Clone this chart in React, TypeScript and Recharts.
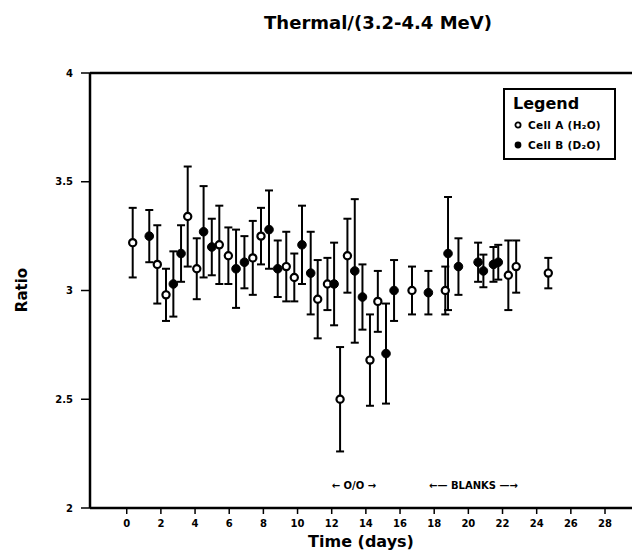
import {
  ScatterChart,
  Scatter,
  XAxis,
  YAxis,
  ErrorBar,
  Legend,
  Label,
  ReferenceLine,
  ReferenceDot,
} from "recharts"

// Cell A (H2O) — open circles
const cellADays = [0.35, 1.79, 2.3, 3.57, 4.1, 5.42, 5.95, 7.38, 7.86, 9.34, 9.81, 11.18, 11.75, 12.49, 12.92, 14.24, 14.7, 16.7, 18.65, 22.34, 22.8, 24.68]
const cellARatio = [3.22, 3.12, 2.98, 3.34, 3.1, 3.21, 3.16, 3.15, 3.25, 3.11, 3.06, 2.96, 3.03, 2.5, 3.16, 2.68, 2.95, 3.0, 3.0, 3.07, 3.11, 3.08]
const cellAErr = [0.16, 0.18, 0.12, 0.23, 0.14, 0.18, 0.13, 0.17, 0.13, 0.16, 0.11, 0.18, 0.12, 0.24, 0.17, 0.21, 0.14, 0.11, 0.11, 0.16, 0.12, 0.07]

// Cell B (D2O) — filled circles
const cellBDays = [1.32, 2.73, 3.18, 4.5, 4.98, 6.4, 6.89, 8.33, 8.84, 10.26, 10.77, 12.14, 13.35, 13.8, 15.18, 15.65, 17.66, 18.81, 19.42, 20.57, 20.88, 21.47, 21.75]
const cellBRatio = [3.25, 3.03, 3.17, 3.27, 3.2, 3.1, 3.13, 3.28, 3.1, 3.21, 3.08, 3.03, 3.09, 2.97, 2.71, 3.0, 2.99, 3.17, 3.11, 3.13, 3.09, 3.12, 3.13]
const cellBErr = [0.12, 0.15, 0.13, 0.21, 0.13, 0.18, 0.12, 0.18, 0.13, 0.18, 0.19, 0.19, 0.33, 0.15, 0.23, 0.14, 0.1, 0.26, 0.13, 0.09, 0.075, 0.08, 0.08]

const xTicks = [0, 2, 4, 6, 8, 10, 12, 14, 16, 18, 20, 22, 24, 26, 28]
const yTicks = [2, 2.5, 3, 3.5, 4]

const seriesNames = ["Cell A (H\u2082O)", "Cell B (D\u2082O)"]

const annotations = [
  { x: 13.3, y: 2.105, text: "\u2190 O/O \u2192" },
  { x: 20.3, y: 2.105, text: "\u2190\u2014 BLANKS \u2014\u2192" },
]

const FONT = "'DejaVu Sans', sans-serif"

const cellA = cellADays.map((d, i) => ({ day: d, ratio: cellARatio[i], err: cellAErr[i] }))
const cellB = cellBDays.map((d, i) => ({ day: d, ratio: cellBRatio[i], err: cellBErr[i] }))

const OpenDot = (p: any) => <circle cx={p.cx} cy={p.cy} r={3.6} fill="#fff" stroke="#000" strokeWidth={2.2} />
const FilledDot = (p: any) => <circle cx={p.cx} cy={p.cy} r={4.3} fill="#000" stroke="#000" strokeWidth={1} />

function LegendBox() {
  return (
    <div
      style={{
        width: 113,
        height: 72,
        border: "2px solid #000",
        background: "#fff",
        fontFamily: FONT,
        fontWeight: 700,
        color: "#000",
        padding: "3px 0 0 8px",
        boxSizing: "border-box",
      }}
    >
      <div style={{ fontSize: 16, lineHeight: "22px" }}>Legend</div>
      {seriesNames.map((name, i) => (
        <div key={name} style={{ display: "flex", alignItems: "center", fontSize: 10.5, lineHeight: "20px", letterSpacing: 0.3 }}>
          <svg width={15} height={10}>
            {i === 0 ? (
              <circle cx={5} cy={5} r={2.6} fill="#fff" stroke="#000" strokeWidth={1.8} />
            ) : (
              <circle cx={5} cy={5} r={3.4} fill="#000" />
            )}
          </svg>
          <span>{name}</span>
        </div>
      ))}
    </div>
  )
}

export default function App() {
  return (
    <div style={{ position: "absolute", left: 0, top: 0, width: 634, height: 551, background: "#fff" }}>
      <div
        style={{
          position: "absolute",
          left: 0,
          width: 756,
          top: 12,
          textAlign: "center",
          fontFamily: FONT,
          fontWeight: 700,
          fontSize: 18,
          color: "#000",
        }}
      >
        Thermal/(3.2-4.4 MeV)
      </div>
      <ScatterChart width={634} height={551} margin={{ top: 73, right: 2, bottom: 0, left: 0 }}>
        <XAxis
          type="number"
          dataKey="day"
          domain={[-2.15, 29.58]}
          ticks={xTicks}
          allowDataOverflow
          height={43}
          axisLine={{ stroke: "#000", strokeWidth: 2.5 }}
          tickLine={{ stroke: "#000", strokeWidth: 1.5 }}
          tickSize={6}
          tickMargin={6}
          tick={{ fontSize: 10, fontWeight: 700, fill: "#000", fontFamily: FONT }}
        >
          <Label
            value="Time (days)"
            position="insideBottom"
            offset={4}
            style={{ fontSize: 16, fontWeight: 700, fill: "#000", fontFamily: FONT }}
          />
        </XAxis>
        <YAxis
          type="number"
          dataKey="ratio"
          domain={[2, 4]}
          ticks={yTicks}
          width={90}
          axisLine={{ stroke: "#000", strokeWidth: 2.5 }}
          tickLine={{ stroke: "#000", strokeWidth: 1.5 }}
          tickSize={9}
          tickMargin={8}
          tick={{ fontSize: 10, fontWeight: 700, fill: "#000", fontFamily: FONT }}
        >
          <Label
            content={() => (
              <text
                x={22}
                y={290}
                transform="rotate(-90 22 290)"
                textAnchor="middle"
                dominantBaseline="central"
                style={{ fontSize: 15, fontWeight: 700, fill: "#000", fontFamily: FONT }}
              >
                Ratio
              </text>
            )}
          />
        </YAxis>
        <ReferenceLine y={4} stroke="#000" strokeWidth={2.5} />
        <Legend
          layout="vertical"
          align="center"
          verticalAlign="middle"
          wrapperStyle={{ left: 503, top: 88, width: 113 }}
          content={() => <LegendBox />}
        />
        <Scatter name={seriesNames[0]} data={cellA} shape={OpenDot} isAnimationActive={false}>
          <ErrorBar dataKey="err" direction="y" width={4} stroke="#000" strokeWidth={2} />
        </Scatter>
        <Scatter name={seriesNames[1]} data={cellB} shape={FilledDot} isAnimationActive={false}>
          <ErrorBar dataKey="err" direction="y" width={4} stroke="#000" strokeWidth={2} />
        </Scatter>
        {annotations.map((a) => (
          <ReferenceDot
            key={a.text}
            x={a.x}
            y={a.y}
            r={0}
            stroke="none"
            label={{ value: a.text, position: "center", fontSize: 10, fontWeight: 700, fill: "#000", fontFamily: FONT }}
          />
        ))}
      </ScatterChart>
    </div>
  )
}
